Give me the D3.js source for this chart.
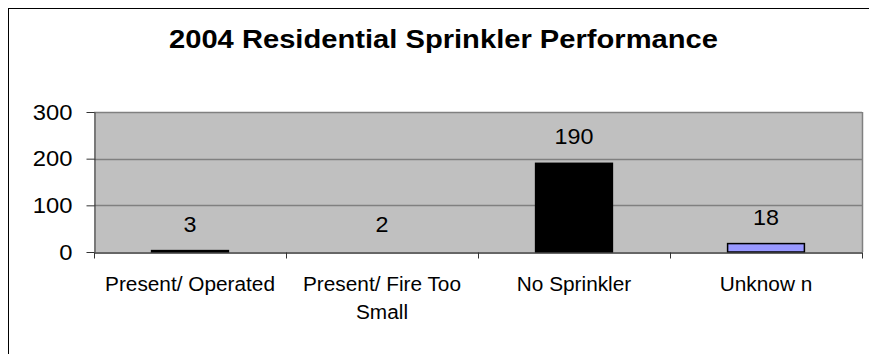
<!DOCTYPE html>
<html>
<head>
<meta charset="utf-8">
<script src="https://cdn.jsdelivr.net/npm/d3@7"></script>
<style>
  html, body { margin: 0; padding: 0; background: #fff; overflow: hidden; }
  svg { display: block; }
  text { font-family: "Liberation Sans", Arial, sans-serif; fill: #000; }
</style>
</head>
<body>
<svg id="chart" width="869" height="354"></svg>
<script>
// ---- data ----
const title = "2004 Residential Sprinkler Performance";
const categories = ["Present/ Operated", "Present/ Fire Too Small", "No Sprinkler", "Unknow n"];
const categoryLines = [["Present/ Operated"], ["Present/ Fire Too", "Small"], ["No Sprinkler"], ["Unknow n"]];
const values = [3, 2, 190, 18];
const barColors = ["#000000", "#C0C0C0", "#000000", "#9999FF"];
const barStrokes = ["#000000", "none", "#000000", "#000000"];
const yTicks = [0, 100, 200, 300];

// ---- layout ----
const plot = { left: 94, right: 862, top: 112, bottom: 252 };
const svg = d3.select("#chart");

function stretch(sel, f) {
  sel.each(function () {
    const len = this.getComputedTextLength();
    d3.select(this).attr("textLength", len * f).attr("lengthAdjust", "spacingAndGlyphs");
  });
}

// outer frame
svg.append("rect").attr("x", 8.5).attr("y", 8.5).attr("width", 900).attr("height", 400)
  .attr("fill", "#fff").attr("stroke", "#000").attr("stroke-width", 1);

// title
svg.append("text").attr("x", 443.5).attr("y", 48).attr("text-anchor", "middle")
  .style("font-size", "25px").style("font-weight", "bold")
  .attr("textLength", 549).attr("lengthAdjust", "spacingAndGlyphs")
  .text(title);

const x = d3.scaleBand().domain(categories).range([plot.left, plot.right])
  .paddingInner(0.6).paddingOuter(0.3);
const y = d3.scaleLinear().domain([0, 300]).range([plot.bottom, plot.top]);

// plot background
svg.append("rect").attr("x", plot.left).attr("y", plot.top)
  .attr("width", plot.right - plot.left).attr("height", plot.bottom - plot.top)
  .attr("fill", "#C0C0C0");

// gridlines
svg.append("g").selectAll("line").data(yTicks.filter(d => d > 0)).join("line")
  .attr("x1", plot.left).attr("x2", plot.right)
  .attr("y1", d => Math.round(y(d)) + 0.5).attr("y2", d => Math.round(y(d)) + 0.5)
  .attr("stroke", "#808080").attr("stroke-width", 1.5);

// right border of plot
svg.append("line").attr("x1", plot.right + 0.5).attr("x2", plot.right + 0.5)
  .attr("y1", plot.top).attr("y2", plot.bottom).attr("stroke", "#808080").attr("stroke-width", 1.5);

// bars
svg.append("g").selectAll("rect").data(values).join("rect")
  .attr("x", (d, i) => x(categories[i]))
  .attr("y", d => y(d))
  .attr("width", x.bandwidth())
  .attr("height", d => y(0) - y(d))
  .attr("fill", (d, i) => barColors[i])
  .attr("stroke", (d, i) => barStrokes[i])
  .attr("stroke-width", 1.5);

// data labels
const dl = svg.append("g").selectAll("text").data(values).join("text")
  .attr("x", (d, i) => x(categories[i]) + x.bandwidth() / 2)
  .attr("y", d => y(d) - 19)
  .attr("text-anchor", "middle")
  .style("font-size", "22px")
  .text(d => d);
stretch(dl, 1.06);

// y axis
const yAxis = svg.append("g").attr("transform", `translate(${plot.left + 0.5},0)`)
  .call(d3.axisLeft(y).tickValues(yTicks).tickSize(8).tickPadding(14).tickSizeOuter(0));
yAxis.select(".domain").attr("stroke", "#333");
yAxis.selectAll(".tick line").attr("stroke", "#333");
yAxis.selectAll(".tick text").style("font-size", "22px").attr("fill", "#000")
  .style("font-family", "'Liberation Sans', Arial, sans-serif");
stretch(yAxis.selectAll(".tick text"), 1.08);

// x axis
const xAxis = svg.append("g").attr("transform", `translate(0,${plot.bottom + 0.5})`)
  .call(d3.axisBottom(x).tickSize(0).tickPadding(0).tickSizeOuter(0).tickFormat(() => ""));
xAxis.select(".domain").attr("stroke", "#333").attr("stroke-width", 1.5);
// category boundary ticks
const bounds = d3.range(categories.length + 1).map(i => plot.left + i * x.step());
xAxis.selectAll(".bound").data(bounds).join("line").attr("class", "bound")
  .attr("x1", d => Math.round(d) + 0.5).attr("x2", d => Math.round(d) + 0.5)
  .attr("y1", 0).attr("y2", 6).attr("stroke", "#333");

// category labels
xAxis.selectAll(".tick").each(function (d, i) {
  const t = d3.select(this).select("text").text(null)
    .attr("y", 0).attr("dy", null)
    .style("font-size", "20px").attr("fill", "#000")
    .style("font-family", "'Liberation Sans', Arial, sans-serif");
  categoryLines[i].forEach((line, k) => {
    t.append("tspan").attr("x", 0).attr("y", 38 + k * 28).text(line);
  });
});
xAxis.selectAll(".tick tspan").each(function () {
  const len = this.getComputedTextLength();
  d3.select(this).attr("textLength", len * 1.04).attr("lengthAdjust", "spacingAndGlyphs");
});
</script>
</body>
</html>
